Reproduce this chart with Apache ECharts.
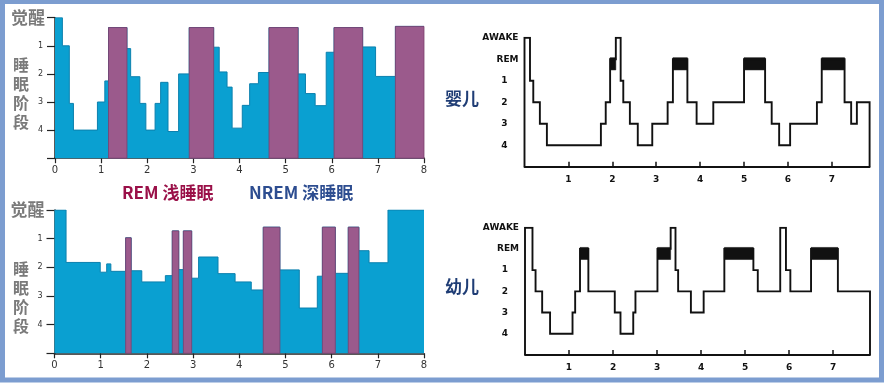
<!DOCTYPE html>
<html><head><meta charset="utf-8">
<script src="https://cdn.jsdelivr.net/npm/echarts@6/dist/echarts.min.js"></script>
<style>html,body{margin:0;padding:0;background:#fff}#c{width:884px;height:383px}</style>
</head><body><div id="c"></div>
<script>
// ---- Left hypnograms: segment boundaries (hours), stage level (0 = 觉醒 ... 5 = axis base), REM flag
const topLeftX = [0,0.16,0.31,0.40,0.92,1.08,1.16,1.56,1.64,1.84,1.97,2.17,2.29,2.45,2.68,2.91,3.44,3.56,3.73,3.84,4.06,4.22,4.41,4.64,5.27,5.43,5.64,5.88,6.05,6.67,6.95,7.38,8.00];
const topLeftStage = [0,1.0,3.05,4.0,3.0,2.25,0.35,1.1,2.1,3.05,4.0,3.05,2.3,4.05,2.0,0.35,1.05,1.93,2.47,3.93,3.12,2.35,1.95,0.35,2.0,2.7,3.13,1.23,0.35,1.04,2.09,0.31];
const topLeftREM = [0,0,0,0,0,0,1,0,0,0,0,0,0,0,0,1,0,0,0,0,0,0,0,1,0,0,0,0,1,0,0,1];

const botLeftX = [0,0.25,0.99,1.13,1.22,1.54,1.66,1.89,2.40,2.55,2.69,2.79,2.97,3.12,3.54,3.91,4.26,4.52,4.88,5.30,5.69,5.80,6.08,6.36,6.59,6.81,7.22,8.00];
const botLeftStage = [0,1.83,2.17,1.88,2.14,0.97,2.12,2.51,2.29,0.73,2.08,0.73,2.38,1.64,2.22,2.51,2.79,0.6,2.09,3.42,2.31,0.6,2.21,0.6,1.42,1.84,0];
const botLeftREM = [0,0,0,0,0,1,0,0,0,1,0,1,0,0,0,0,0,1,0,0,0,1,0,1,0,0,0];

const leftXTicks = ['0','1','2','3','4','5','6','7','8'];
const leftYTicks = ['觉醒','1','2','3','4'];

// ---- Right hypnograms (0 = AWAKE, 1 = REM, 2..5 = stages 1..4, 6 = base)
const infantX = [0,0.125,0.2,0.35,0.51,1.74,1.85,1.95,2.08,2.19,2.25,2.40,2.58,2.91,3.26,3.38,3.71,3.92,4.30,5.00,5.48,5.63,5.80,6.05,6.66,6.77,7.29,7.44,7.57,7.86];
const infantStage = [0,2,3,4,5,4,3,1,0,2,3,4,5,4,3,1,3,4,3,1,3,4,5,4,3,1,3,4,3];
const infantREM = [[1.95,2.08],[3.38,3.71],[5.00,5.48],[6.77,7.29]];

const childX = [0,0.17,0.24,0.39,0.57,1.08,1.14,1.25,1.44,2.04,2.17,2.46,2.51,3.01,3.31,3.42,3.48,3.77,4.06,4.53,5.19,5.29,5.80,5.93,6.03,6.50,7.11,7.84];
const childStage = [0,2,3,4,5,4,3,1,3,4,5,4,3,1,0,2,3,4,3,1,2,3,0,2,3,1,3];
const childREM = [[1.25,1.44],[3.01,3.31],[4.53,5.19],[6.50,7.11]];

const rightYTicks = ['AWAKE','REM','1','2','3','4'];
const rightXTicks = [1,2,3,4,5,6,7];

// ---- build helpers
function segs(xs, st, rem, flag){
  const out=[];
  for(let i=0;i<st.length;i++){ if(rem[i]===flag) out.push([xs[i],xs[i+1],st[i]]); }
  return out;
}
function outline(xs, st){
  const out=st.map((v,i)=>[xs[i],v]);
  out.push([xs[xs.length-1], st[st.length-1]]);
  return out;
}
function hypno(xs, st){
  const out=[[0,6]];
  st.forEach((v,i)=>out.push([xs[i],v]));
  out.push([xs[xs.length-1], st[st.length-1]]);
  out.push([xs[xs.length-1], 6]);
  return out;
}
const BLUE='#0aa0d1', PURPLE='#9b5a8c';
function remRenderer(params, api){
  const p0=api.coord([api.value(0), api.value(2)]);
  const p1=api.coord([api.value(1), 5]);
  return {type:'rect', shape:{x:p0[0], y:p0[1], width:p1[0]-p0[0], height:p1[1]-p0[1]},
    style:{fill:PURPLE, stroke:'#7c3f6d', lineWidth:0.8}};
}
function blockRenderer(params, api){
  const p0=api.coord([api.value(0), 0.93]);
  const p1=api.coord([api.value(1), 1.5]);
  return {type:'rect', shape:{x:p0[0], y:p0[1], width:p1[0]-p0[0], height:p1[1]-p0[1]}, style:{fill:'#111', stroke:'#111', lineWidth:0.5}};
}

const leftX = (gi)=>({gridIndex:gi,type:'value',min:0,max:8,interval:1,
  axisLine:{onZero:false,lineStyle:{color:'#222',width:1.5}},
  axisTick:{length:5,lineStyle:{color:'#222',width:1.2}},
  axisLabel:{color:'#333',fontSize:10,margin:7,fontFamily:'DejaVu Sans',formatter:v=>leftXTicks[v]},
  splitLine:{show:false}});
const leftY = (gi)=>({gridIndex:gi,type:'value',inverse:true,min:0,max:5,interval:1,
  axisLine:{show:true,onZero:false,lineStyle:{color:'#222',width:1.5}},
  axisTick:{show:true,length:8,lineStyle:{color:'#222',width:1.2}},
  axisLabel:{margin:12,formatter:v=> v===0?'{a|'+leftYTicks[0]+'}':(v<5?'{b|'+leftYTicks[v]+'}':''),
    rich:{a:{fontSize:17,color:'#7a7a7a',fontFamily:'Noto Sans CJK SC',fontWeight:'bold',padding:[0,-2,0,0]},
          b:{fontSize:8,color:'#333',fontFamily:'DejaVu Sans'}}},
  splitLine:{show:false}});
const rightX = (gi,max)=>({gridIndex:gi,type:'value',min:0,max:max,
  axisLine:{onZero:false,lineStyle:{color:'#111',width:1.9}},
  axisTick:{customValues:rightXTicks,inside:true,length:5,lineStyle:{color:'#111',width:1.5}},
  axisLabel:{customValues:rightXTicks,color:'#111',fontSize:9,fontWeight:'bold',fontFamily:'DejaVu Sans',margin:8},
  splitLine:{show:false}});
const rightY = (gi)=>({gridIndex:gi,type:'value',inverse:true,min:0,max:6,interval:1,
  axisLine:{show:false,onZero:false},axisTick:{show:false},
  axisLabel:{margin:6,formatter:v=> v<2?'{w|'+rightYTicks[v]+'}':(v<6?'{d|'+rightYTicks[v]+'}':''),
    rich:{w:{color:'#111',fontSize:9,fontWeight:'bold',fontFamily:'DejaVu Sans'},
          d:{color:'#111',fontSize:9,fontWeight:'bold',fontFamily:'DejaVu Sans',padding:[0,11,0,0]}}},
  splitLine:{show:false}});

const chart = echarts.init(document.getElementById('c'));
chart.setOption({
  animation:false,
  backgroundColor:'#ffffff',
  grid:[
    {left:55,top:17.7,width:369,height:140.5},
    {left:54.5,top:210,width:369.5,height:143.3},
    {left:524.5,top:37.7,width:345.1,height:129},
    {left:525,top:227.7,width:345,height:127.3}
  ],
  xAxis:[leftX(0),leftX(1),rightX(2,7.86),rightX(3,7.84)],
  yAxis:[leftY(0),leftY(1),rightY(2),rightY(3)],
  series:[
    {type:'line',xAxisIndex:0,yAxisIndex:0,step:'end',symbol:'none',data:outline(topLeftX,topLeftStage),
      lineStyle:{color:'#0b80ae',width:1},areaStyle:{color:BLUE,opacity:1,origin:'end'},z:2},
    {type:'custom',xAxisIndex:0,yAxisIndex:0,renderItem:remRenderer,encode:{x:[0,1],y:2},data:segs(topLeftX,topLeftStage,topLeftREM,1),z:4},

    {type:'line',xAxisIndex:1,yAxisIndex:1,step:'end',symbol:'none',data:outline(botLeftX,botLeftStage),
      lineStyle:{color:'#0b80ae',width:1},areaStyle:{color:BLUE,opacity:1,origin:'end'},z:2},
    {type:'custom',xAxisIndex:1,yAxisIndex:1,renderItem:remRenderer,encode:{x:[0,1],y:2},data:segs(botLeftX,botLeftStage,botLeftREM,1),z:4},

    {type:'custom',xAxisIndex:2,yAxisIndex:2,renderItem:blockRenderer,encode:{x:[0,1]},data:infantREM,z:2},
    {type:'line',xAxisIndex:2,yAxisIndex:2,step:'end',symbol:'none',data:hypno(infantX,infantStage),lineStyle:{color:'#111',width:1.9,join:'miter'},z:3},
    {type:'custom',xAxisIndex:3,yAxisIndex:3,renderItem:blockRenderer,encode:{x:[0,1]},data:childREM,z:2},
    {type:'line',xAxisIndex:3,yAxisIndex:3,step:'end',symbol:'none',data:hypno(childX,childStage),lineStyle:{color:'#111',width:1.9,join:'miter'},z:3}
  ],
  graphic:[
    {type:'rect',silent:true,z:100,shape:{x:2.5,y:1.5,width:879,height:378.5},style:{fill:null,stroke:'#7c9dd0',lineWidth:5}},
    {type:'text',x:21,y:93,style:{text:'睡\n眠\n阶\n段',fontSize:16,lineHeight:19,fill:'#7a7a7a',fontWeight:'bold',fontFamily:'Noto Sans CJK SC',align:'center',verticalAlign:'middle'}},
    {type:'text',x:21,y:297,style:{text:'睡\n眠\n阶\n段',fontSize:16,lineHeight:19,fill:'#7a7a7a',fontWeight:'bold',fontFamily:'Noto Sans CJK SC',align:'center',verticalAlign:'middle'}},
    {type:'text',x:122,y:193,style:{text:'REM 浅睡眠',fontSize:17,fill:'#9a1048',fontWeight:'bold',fontFamily:'Noto Sans CJK SC',align:'left',verticalAlign:'middle'}},
    {type:'text',x:249,y:193,style:{text:'NREM 深睡眠',fontSize:17,fill:'#2d4d90',fontWeight:'bold',fontFamily:'Noto Sans CJK SC',align:'left',verticalAlign:'middle'}},
    {type:'text',x:445,y:99,style:{text:'婴儿',fontSize:17,fill:'#1f3d75',fontWeight:'bold',fontFamily:'Noto Sans CJK SC',align:'left',verticalAlign:'middle'}},
    {type:'text',x:445,y:287,style:{text:'幼儿',fontSize:17,fill:'#1f3d75',fontWeight:'bold',fontFamily:'Noto Sans CJK SC',align:'left',verticalAlign:'middle'}}
  ]
});
</script></body></html>
